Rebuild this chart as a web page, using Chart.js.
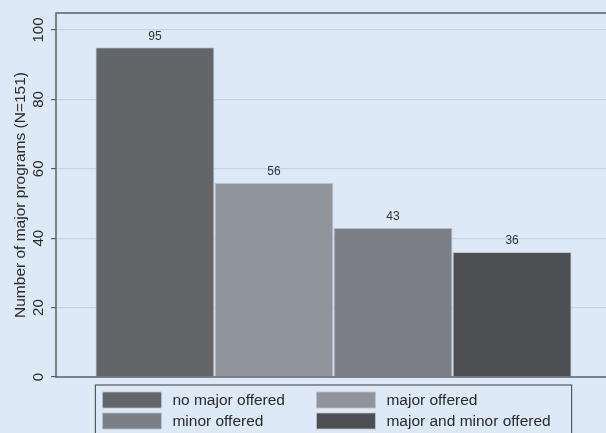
<!DOCTYPE html>
<html>
<head>
<meta charset="utf-8">
<script src="https://cdn.jsdelivr.net/npm/chart.js@4"></script>
<style>
  html, body { margin: 0; padding: 0; background: #dde9f6; overflow: hidden; }
  #wrap { position: relative; width: 614px; height: 433px; }
</style>
</head>
<body>
<div id="wrap"><canvas id="chart"></canvas></div>
<script>
// data
const categories = ['no major offered', 'major offered', 'minor offered', 'major and minor offered'];
const counts = [95, 56, 43, 36];
const barColors = ['#636569', '#90959c', '#7c7f87', '#4e4f53'];
const yTicks = [0, 20, 40, 60, 80, 100];
const yTitle = 'Number of major programs (N=151)';

const ink = '#2a2a2a';
const font = 'Liberation Sans, Arial, Helvetica, sans-serif';

// value labels on top of bars
const valueLabels = {
    id: 'valueLabels',
    afterDatasetsDraw(chart) {
        const ctx = chart.ctx;
        ctx.save();
        ctx.fillStyle = '#333';
        ctx.font = '12px ' + font;
        ctx.textAlign = 'center';
        ctx.textBaseline = 'bottom';
        chart.data.datasets.forEach((ds, i) => {
            const bar = chart.getDatasetMeta(i).data[0];
            ctx.fillText(String(ds.data[0]), bar.x, bar.y - 5);
        });
        ctx.restore();
    }
};

// vertical tick labels and axis title, placed from the y scale
const yAxisText = {
    id: 'yAxisText',
    afterDraw(chart) {
        const ctx = chart.ctx;
        const y = chart.scales.y;
        const a = chart.chartArea;
        ctx.save();
        ctx.fillStyle = ink;
        ctx.textAlign = 'center';
        ctx.textBaseline = 'middle';
        ctx.font = '15px ' + font;
        y.ticks.forEach((t) => {
            const py = y.getPixelForValue(t.value);
            ctx.save();
            ctx.translate(39, py);
            ctx.rotate(-Math.PI / 2);
            ctx.fillText(String(t.value), 0, 0);
            ctx.restore();
        });
        ctx.font = '15.5px ' + font;
        ctx.translate(21, (a.top + a.bottom) / 2);
        ctx.rotate(-Math.PI / 2);
        ctx.fillText(yTitle, 0, 0);
        ctx.restore();
    }
};

// plot region frame + boxed two-column legend
const frameAndLegend = {
    id: 'frameAndLegend',
    afterDraw(chart) {
        const ctx = chart.ctx;
        const a = chart.chartArea;
        ctx.save();
        ctx.strokeStyle = '#5c5f63';
        ctx.lineWidth = 1.5;
        ctx.strokeRect(a.left, a.top, a.right - a.left + 10, a.bottom - a.top);

        // legend box spans the bar group
        const m0 = chart.getDatasetMeta(0).data[0];
        const m3 = chart.getDatasetMeta(categories.length - 1).data[0];
        const bx = m0.x - m0.width / 2;
        const bw = (m3.x + m3.width / 2) - bx;
        const by = a.bottom + 8;
        ctx.lineWidth = 1.2;
        ctx.strokeStyle = '#55585c';
        ctx.strokeRect(bx, by, bw, 60);

        ctx.font = '15.5px ' + font;
        ctx.textBaseline = 'middle';
        ctx.textAlign = 'left';
        const colX = [bx + 7, bx + 221];
        const rowY = [by + 7, by + 28];
        categories.forEach((c, i) => {
            const x = colX[i % 2];
            const y = rowY[Math.floor(i / 2)];
            ctx.fillStyle = barColors[i];
            ctx.fillRect(x, y, 59, 16);
            ctx.strokeStyle = '#b9c3cd';
            ctx.lineWidth = 0.8;
            ctx.strokeRect(x, y, 59, 16);
            ctx.fillStyle = ink;
            ctx.fillText(c, x + 70, y + 8.5);
        });
        ctx.restore();
    }
};

const ctx = document.getElementById('chart').getContext('2d');
new Chart(ctx, {
    type: 'bar',
    data: {
        labels: [''],
        datasets: categories.map((c, i) => ({
            label: c,
            data: [counts[i]],
            backgroundColor: barColors[i],
            borderColor: '#c3ccd6',
            borderWidth: 1,
            categoryPercentage: 0.858,
            barPercentage: 1
        }))
    },
    options: {
        responsive: true,
        maintainAspectRatio: false,
        animation: false,
        layout: { padding: { top: 13, right: 3, bottom: 56, left: 0 } },
        plugins: {
            legend: { display: false },
            tooltip: { enabled: false }
        },
        scales: {
            x: { display: false },
            y: {
                min: 0,
                max: 104.9,
                afterFit(scale) { scale.width = 56; },
                afterBuildTicks(scale) { scale.ticks = yTicks.map(v => ({ value: v })); },
                border: { display: false },
                grid: {
                    color: (c) => c.tick && c.tick.value === 0 ? 'rgba(0,0,0,0)' : '#c7d4e1',
                    lineWidth: 1.2,
                    tickColor: '#5c5f63',
                    tickLength: 5,
                    drawTicks: true
                },
                ticks: { display: false },
                title: { display: false }
            }
        }
    },
    plugins: [valueLabels, yAxisText, frameAndLegend]
});
</script>
</body>
</html>
